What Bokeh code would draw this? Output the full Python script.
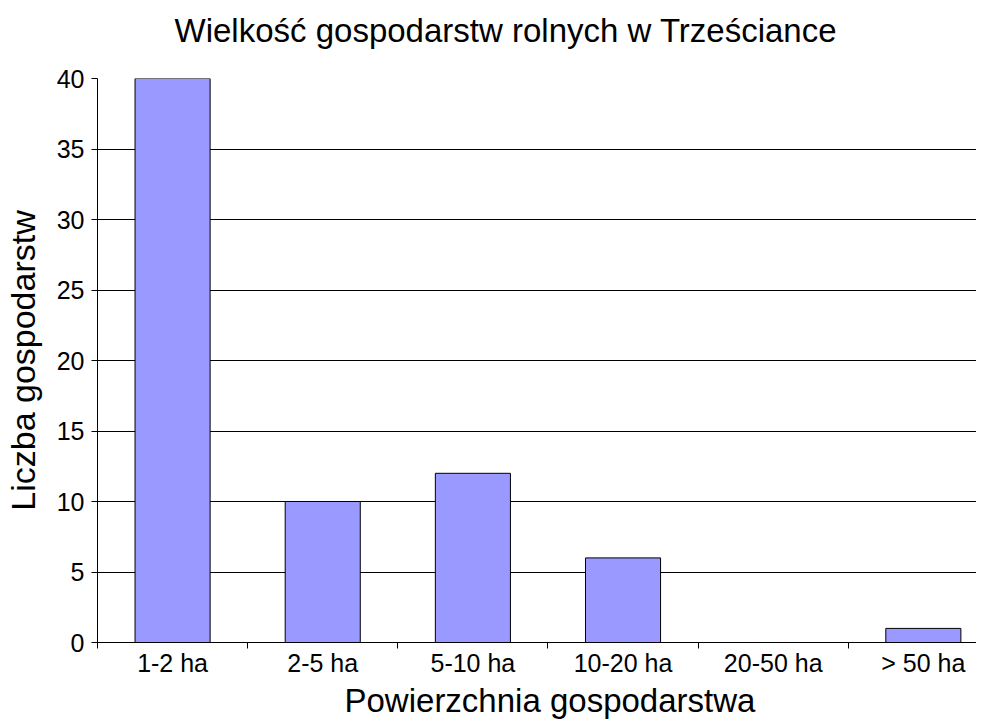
from bokeh.plotting import figure
from bokeh.models import Range1d, FixedTicker, Title, ColumnDataSource
from bokeh.embed import file_html
from bokeh.resources import INLINE

# ---- data ----
categories = ["1-2 ha", "2-5 ha", "5-10 ha", "10-20 ha", "20-50 ha", "> 50 ha"]
counts = [40, 10, 12, 6, 0, 1]
y_ticks = [0, 5, 10, 15, 20, 25, 30, 35, 40]
title_text = "Wielkość gospodarstw rolnych w Trześciance"
x_label = "Powierzchnia gospodarstwa"
y_label = "Liczba gospodarstw"

FONT = "Liberation Sans"

positions = [i + 0.5 for i in range(len(categories))]
boundaries = list(range(len(categories) + 1))

src = ColumnDataSource(dict(x=positions, top=counts, cat=categories))

p = figure(width=976, height=719, output_backend="svg", toolbar_location=None,
           x_range=Range1d(0, 5.854), y_range=Range1d(0, 40),
           min_border_left=95, min_border_right=0, min_border_top=78,
           min_border_bottom=77, background_fill_color="white",
           border_fill_color="white")
p.outline_line_color = None

p.vbar(x="x", top="top", width=0.5, source=src, fill_color="#9999FF",
       line_color="black", line_width=1)

# chart title (outermost panel above the frame)
p.title.text = title_text
p.title.align = "left"
p.title.offset = 77
p.title.standoff = 0
p.title.text_font = FONT
p.title.text_font_size = "33px"
p.title.text_font_style = "normal"
p.title.text_color = "black"

# empty spacer between the title and the frame
spacer = Title(text=" ", text_font_size="1px", standoff=27)
p.add_layout(spacer, "above")

# x axis
xa = p.xaxis[0]
xa.ticker = FixedTicker(ticks=positions, minor_ticks=boundaries)
xa.major_label_overrides = {pos: c for pos, c in zip(positions, categories)}
xa.major_tick_in = 0
xa.major_tick_out = 0
xa.minor_tick_in = 0
xa.minor_tick_out = 6
xa.minor_tick_line_color = "black"
xa.axis_line_color = "black"
xa.major_label_text_font = FONT
xa.major_label_text_font_size = "25px"
xa.major_label_text_color = "black"
xa.major_label_standoff = 0

# y axis
ya = p.yaxis[0]
ya.ticker = FixedTicker(ticks=y_ticks)
ya.major_tick_in = 0
ya.major_tick_out = 6
ya.major_tick_line_color = "black"
ya.minor_tick_line_color = None
ya.axis_line_color = "black"
ya.major_label_text_font = FONT
ya.major_label_text_font_size = "25px"
ya.major_label_text_color = "black"
ya.major_label_standoff = 7
ya.axis_label = y_label
ya.axis_label_text_font = FONT
ya.axis_label_text_font_size = "34px"
ya.axis_label_text_font_style = "normal"
ya.axis_label_text_color = "black"
ya.axis_label_standoff = 12

p.xgrid.visible = False
p.ygrid.ticker = FixedTicker(ticks=y_ticks)
p.ygrid.grid_line_color = "black"
p.ygrid.grid_line_alpha = 1.0

# x-axis title as a panel below the axis, placed from the frame's left edge
xt = Title(text=x_label, align="left", offset=247, text_font=FONT,
           text_font_size="33px", text_font_style="normal", text_color="black",
           standoff=0)
p.add_layout(xt, "below")

open("out.html", "w").write(file_html(p, INLINE))
